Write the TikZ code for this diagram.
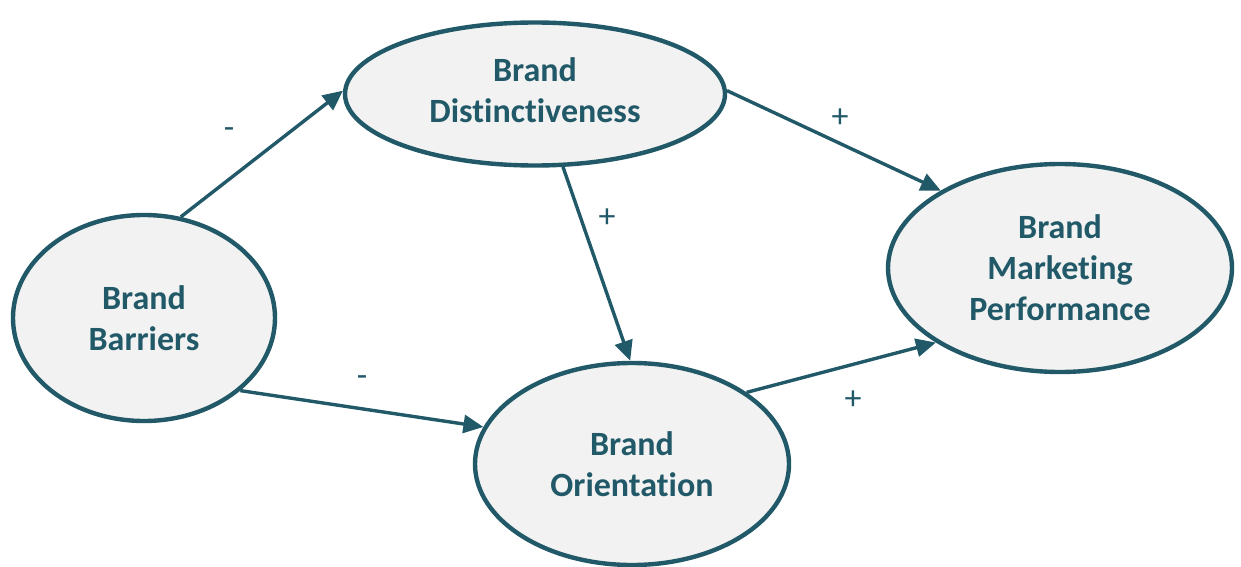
\documentclass[tikz,border=0pt]{standalone}
\usepackage{fontspec}
\setmainfont{Carlito}[Ligatures=NoCommon]
\usetikzlibrary{shapes.geometric,arrows.meta}
\definecolor{teal}{RGB}{33,89,104}
\definecolor{fillgray}{RGB}{242,242,242}
\tikzset{
  concept/.style={ellipse, draw=teal, fill=fillgray, line width=4.4pt, inner sep=0pt,
    align=center, text=teal, font=\fontsize{34}{41}\selectfont\bfseries},
  link/.style={draw=teal, line width=3.4pt, -{Triangle[length=20pt,width=18pt]}},
  sign/.style={text=teal, font=\fontsize{34}{41}\selectfont, inner sep=0pt}
}
\begin{document}
\begin{tikzpicture}[x=1pt,y=-1pt]
\useasboundingbox (0,0) rectangle (1241,567);
\node[concept, minimum width=380pt, minimum height=143pt] (dist) at (535,94) {\raisebox{3pt}{\begin{tabular}{@{}c@{}}Brand\\Distinctiveness\end{tabular}}};
\node[concept, minimum width=262pt, minimum height=206pt] (barr) at (144,318) {Brand\\Barriers};
\node[concept, minimum width=314pt, minimum height=202pt] (orie) at (632,464) {Brand\\Orientation};
\node[concept, minimum width=344pt, minimum height=208pt] (perf) at (1060,268) {Brand\\Marketing\\Performance};

\draw[link] (barr.70.7) -- (dist.179.4);
\draw[link] (dist.1) -- (perf.147.7);
\draw[link] (dist.291) -- (orie.91);
\draw[link] (barr.-37.5) -- (orie.166);
\draw[link] (orie.32.5) -- (perf.211);

\node[sign] (s1) at (229,133) {-};
\node[sign] (s2) at (840,118) {+};
\node[sign] (s3) at (607,218) {+};
\node[sign] (s4) at (362,381) {-};
\node[sign] (s5) at (853,400) {+};
\end{tikzpicture}
\end{document}
